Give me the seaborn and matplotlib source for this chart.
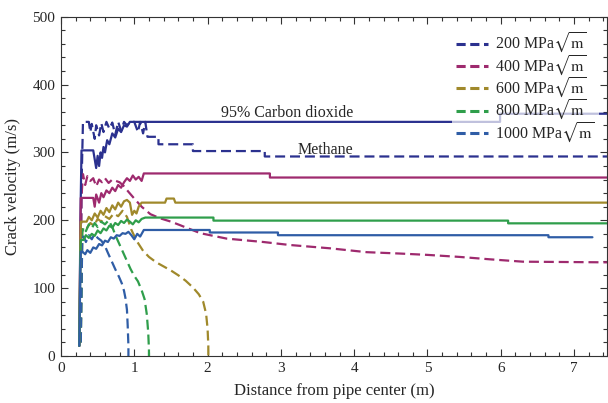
import numpy as np
import pandas as pd
import seaborn as sns
import matplotlib
matplotlib.use("Agg")
import matplotlib.pyplot as plt
from matplotlib.lines import Line2D
from matplotlib.ticker import MultipleLocator

# Stress intensity levels (MPa sqrt(m)) and their colours
levels = ["200", "400", "600", "800", "1000"]
colors = ["#2b318f", "#9e2a6e", "#a0892b", "#2f9e4b", "#2f5da6"]

# 95% carbon dioxide (solid lines): crack tip position (m) vs crack velocity (m/s)
co2_200_x = [0.25, 0.265, 0.28, 0.44, 0.46, 0.48, 0.50, 0.52, 0.54, 0.56, 0.58, 0.60, 0.63, 0.66,
             0.70, 0.74, 0.78, 0.82, 0.86, 0.90, 0.94, 5.99, 5.99, 7.47]
co2_200_y = [15, 200, 303, 303, 290, 277, 295, 280, 300, 292, 308, 300, 318, 312,
             328, 322, 335, 330, 340, 338, 345, 345, 357, 357]

co2_400_x = [0.25, 0.265, 0.27, 0.44, 0.46, 0.48, 0.52, 0.55, 0.58, 0.62, 0.66, 0.70, 0.74,
             0.78, 0.82, 0.86, 0.90, 0.94, 0.98, 1.02, 1.06, 1.10, 1.13, 2.85, 2.85, 7.47]
co2_400_y = [15, 180, 233, 233, 220, 238, 226, 240, 234, 244, 240, 248, 243,
             252, 248, 256, 262, 258, 266, 260, 264, 258, 269, 269, 263, 263]

co2_600_x = [0.25, 0.265, 0.27, 0.35, 0.38, 0.42, 0.46, 0.50, 0.54, 0.58, 0.62, 0.66, 0.70,
             0.74, 0.78, 0.82, 0.86, 0.90, 0.94, 0.97, 1.00, 1.03, 1.06, 1.10, 1.42, 1.44,
             1.54, 1.56, 7.47]
co2_600_y = [15, 170, 198, 198, 205, 200, 210, 204, 214, 208, 218, 212, 222,
             216, 226, 220, 228, 230, 226, 208, 214, 210, 220, 226, 226, 232,
             232, 226, 226]

co2_800_x = [0.25, 0.265, 0.27, 0.31, 0.34, 0.38, 0.42, 0.46, 0.50, 0.54, 0.58, 0.62, 0.66,
             0.70, 0.74, 0.78, 0.82, 0.86, 0.90, 0.94, 0.98, 1.02, 1.06, 1.10, 1.15, 2.08,
             2.08, 6.10, 6.10, 7.47]
co2_800_y = [15, 150, 171, 171, 178, 174, 180, 177, 185, 181, 188, 185, 192,
             189, 196, 193, 199, 196, 201, 198, 194, 200, 197, 202, 204, 204,
             199.5, 199.5, 195.5, 195.5]

co2_1000_x = [0.25, 0.265, 0.27, 0.30, 0.33, 0.36, 0.40, 0.44, 0.48, 0.52, 0.56, 0.60, 0.64,
              0.68, 0.72, 0.76, 0.80, 0.84, 0.88, 0.92, 0.96, 1.00, 1.04, 1.08, 1.13, 2.03,
              2.03, 2.96, 2.96, 6.65, 6.65, 7.25]
co2_1000_y = [15, 130, 154, 153, 150, 156, 152, 160, 158, 165, 163, 170, 168,
              175, 173, 178, 177, 181, 180, 183, 178, 172, 180, 176, 185.7, 185.7,
              182, 182, 178, 178, 175, 175]

# Methane (dashed lines)
ch4_200_x = [0.26, 0.28, 0.30, 0.38, 0.40, 0.42, 0.46, 0.48, 0.52, 0.55, 0.58, 0.62, 0.66,
             0.70, 0.74, 0.78, 0.82, 0.86, 0.90, 0.95, 1.00, 1.05, 1.08, 1.12, 1.15, 1.18,
             1.33, 1.33, 1.80, 1.80, 2.78, 2.78, 7.47]
ch4_200_y = [20, 250, 345, 345, 330, 342, 320, 340, 325, 343, 330, 345, 335,
             344, 326, 345, 332, 345, 340, 345, 345, 330, 345, 328, 345, 323,
             323, 312, 312, 302, 302, 294, 294]

ch4_400_x = [0.26, 0.28, 0.30, 0.33, 0.36, 0.40, 0.44, 0.48, 0.52, 0.56, 0.60, 0.65, 0.70,
             0.75, 0.80, 0.86, 0.92, 1.00, 1.10, 1.22, 1.35, 1.50, 1.62, 1.90, 2.26, 2.76,
             3.12, 3.67, 4.17, 4.62, 5.00, 5.44, 5.85, 6.30, 7.47]
ch4_400_y = [20, 235, 268, 252, 265, 258, 262, 250, 260, 256, 262, 255, 260,
             258, 256, 250, 242, 232, 220, 209, 203, 198, 193, 181, 173, 168,
             163.6, 158.7, 153, 151, 149, 146, 142.5, 139, 138]

ch4_600_x = [0.27, 0.29, 0.31, 0.35, 0.40, 0.45, 0.50, 0.55, 0.60, 0.66, 0.72, 0.78, 0.84,
             0.90, 0.96, 1.03, 1.12, 1.20, 1.30, 1.40, 1.50, 1.60, 1.70, 1.80, 1.88, 1.94,
             1.98, 2.00, 2.01, 2.01]
ch4_600_y = [20, 185, 190, 188, 196, 192, 202, 198, 206, 202, 210, 206, 214,
             205, 186, 170, 155, 146, 138, 132, 126, 119, 111, 101, 91, 80,
             62, 40, 15, 0]

ch4_800_x = [0.27, 0.29, 0.31, 0.34, 0.38, 0.42, 0.46, 0.50, 0.55, 0.60, 0.65, 0.70, 0.75,
             0.80, 0.85, 0.90, 0.95, 1.00, 1.05, 1.10, 1.14, 1.17, 1.19, 1.20, 1.20]
ch4_800_y = [20, 182, 190, 184, 194, 188, 196, 190, 198, 194, 200, 190, 176,
             164, 152, 140, 128, 118, 110, 97, 84, 62, 35, 10, 0]

ch4_1000_x = [0.27, 0.29, 0.31, 0.34, 0.38, 0.42, 0.46, 0.50, 0.55, 0.60, 0.64, 0.69, 0.74,
              0.79, 0.83, 0.86, 0.88, 0.90, 0.91, 0.92, 0.92]
ch4_1000_y = [20, 170, 176, 168, 178, 172, 180, 174, 170, 162, 152, 140, 128,
              117, 107, 96, 85, 68, 45, 15, 0]

co2_x = [co2_200_x, co2_400_x, co2_600_x, co2_800_x, co2_1000_x]
co2_y = [co2_200_y, co2_400_y, co2_600_y, co2_800_y, co2_1000_y]
ch4_x = [ch4_200_x, ch4_400_x, ch4_600_x, ch4_800_x, ch4_1000_x]
ch4_y = [ch4_200_y, ch4_400_y, ch4_600_y, ch4_800_y, ch4_1000_y]

sns.set_theme(style="ticks")
plt.rcParams["font.family"] = ["Liberation Serif", "DejaVu Serif"]
plt.rcParams["mathtext.fontset"] = "stix"

fig = plt.figure(figsize=(6.08, 4.03), dpi=100)
ax = fig.add_axes([0.1003, 0.1166, 0.8982, 0.842])

lw = 1.6
for xs, ys, c in zip(ch4_x, ch4_y, colors):
    df = pd.DataFrame({"x": xs, "y": ys})
    sns.lineplot(data=df, x="x", y="y", ax=ax, sort=False, estimator=None,
                 color=c, lw=lw, dashes=False, linestyle=(0, (4.5, 2.2)))
for xs, ys, c in zip(co2_x, co2_y, colors):
    df = pd.DataFrame({"x": xs, "y": ys})
    sns.lineplot(data=df, x="x", y="y", ax=ax, sort=False, estimator=None,
                 color=c, lw=lw)

ax.set_xlim(0, 7.45)
ax.set_ylim(0, 500)
ax.xaxis.set_major_locator(MultipleLocator(1))
ax.xaxis.set_minor_locator(MultipleLocator(0.2))
ax.yaxis.set_major_locator(MultipleLocator(100))
ax.yaxis.set_minor_locator(MultipleLocator(20))
ax.tick_params(which="both", direction="in", top=True, right=True,
               labelsize=11, color="#333333", width=0.8, pad=4)
ax.tick_params(which="major", length=5)
ax.tick_params(which="minor", length=3)
for s in ax.spines.values():
    s.set_color("#333333")
    s.set_linewidth(0.8)

ax.set_xlabel("Distance from pipe center (m)", fontsize=12, labelpad=6)
ax.set_ylabel("Crack velocity (m/s)", fontsize=12, labelpad=8)

ax.text(3.08, 358, "95% Carbon dioxide", fontsize=11.5, ha="center", va="center")
ax.text(3.61, 304, "Methane", fontsize=11.5, ha="center", va="center")

handles = [Line2D([0], [0], color=c, lw=2.2, linestyle=(0, (3.0, 1.5))) for c in colors]
labels = [lv + r" MPa$\sqrt{\mathrm{m}}$" for lv in levels]
leg = ax.legend(handles, labels, loc="upper right", bbox_to_anchor=(1.0, 0.995),
                fontsize=11.5, frameon=True, handlelength=2.0, handletextpad=0.4,
                labelspacing=-0.12, borderpad=0.3)
leg.get_frame().set_facecolor("white")
leg.get_frame().set_alpha(0.7)
leg.get_frame().set_edgecolor("none")

fig.savefig("out.png", dpi=100)
